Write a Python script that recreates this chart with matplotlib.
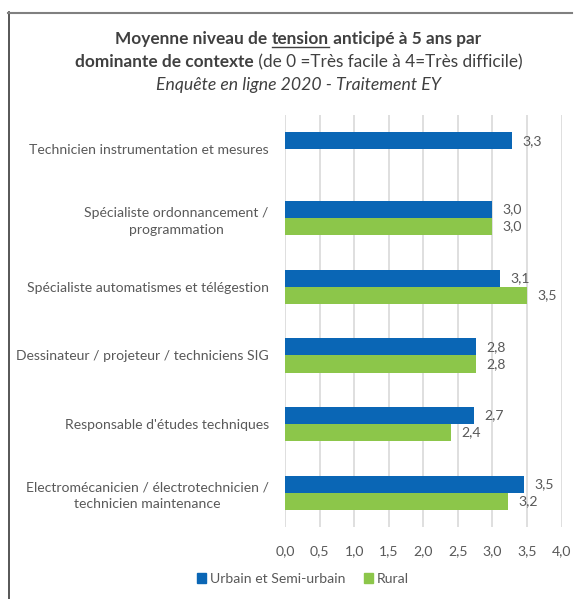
import matplotlib
matplotlib.use("Agg")
import matplotlib.pyplot as plt
from matplotlib.lines import Line2D
from matplotlib.patches import Rectangle

categories = [
    "Technicien instrumentation et mesures",
    "Spécialiste ordonnancement /\nprogrammation",
    "Spécialiste automatismes et télégestion",
    "Dessinateur / projeteur / techniciens SIG",
    "Responsable d'études techniques",
    "Electromécanicien / électrotechnicien /\ntechnicien maintenance",
]
urbain = [3.29, 3.00, 3.11, 2.76, 2.73, 3.46]
rural = [None, 3.00, 3.50, 2.76, 2.40, 3.22]
series_names = ["Urbain et Semi-urbain", "Rural"]
xticks = [0.0, 0.5, 1.0, 1.5, 2.0, 2.5, 3.0, 3.5, 4.0]

BLUE = "#0A66B5"
GREEN = "#8CC64A"
TXT = "#595959"
FONT = "Lato"
FS = 10.1

W, H = 582, 599
fig = plt.figure(figsize=(W / 100, H / 100), dpi=100)
fig.patch.set_facecolor("white")

ax = fig.add_axes([285.3 / W, 1 - 527 / H, (561.5 - 285.3) / W, (527 - 115) / H])
n = len(categories)
ys = list(range(n))
bh = 0.25
for i in ys:
    u = urbain[i]
    r = rural[i]
    if u is not None:
        ax.barh(i - bh / 2, u, height=bh, color=BLUE, zorder=3)
        ax.text(u + 0.15, i - bh / 2, f"{u:.1f}".replace(".", ","), va="center", ha="left",
                color=TXT, fontsize=FS, family=FONT)
    if r is not None:
        ax.barh(i + bh / 2, r, height=bh, color=GREEN, zorder=3)
        ax.text(r + 0.15, i + bh / 2, f"{r:.1f}".replace(".", ","), va="center", ha="left",
                color=TXT, fontsize=FS, family=FONT)

ax.set_ylim(n - 0.5, -0.5)
ax.set_xlim(0, 4)
ax.set_yticks(ys)
ax.set_yticklabels(categories, fontsize=FS, family=FONT, color=TXT, multialignment="center",
                   linespacing=1.45)
ax.set_xticks(xticks)
ax.set_xticklabels([f"{v:.1f}".replace(".", ",") for v in xticks], fontsize=FS, family=FONT, color=TXT)
ax.tick_params(axis="y", length=0, pad=12)
ax.tick_params(axis="x", length=0, pad=13)
ax.xaxis.grid(True, color="#D9D9D9", linewidth=1.2, zorder=0)
for s in ax.spines.values():
    s.set_visible(False)
ax.set_facecolor("none")

# frame lines (cropped chart border)
fig.add_artist(Line2D([8.5 / W, 8.5 / W], [1 - 12 / H, 0], color="#3a3a3a", linewidth=1.2))
fig.add_artist(Line2D([8 / W, 572 / W], [1 - 12.5 / H, 1 - 12.5 / H], color="#808080", linewidth=1.5))

# title with mixed styles
fig.canvas.draw()
renderer = fig.canvas.get_renderer()
TITLE_C = "#404040"

def place_segments(segments, cx, cy, size):
    texts = []
    widths = []
    for s, wgt, sty, ul in segments:
        t = fig.text(0, 0, s, fontsize=size, family=FONT, weight=wgt, style=sty,
                     color=TITLE_C, ha="left", va="baseline")
        bb = t.get_window_extent(renderer)
        texts.append((t, ul))
        widths.append(bb.width)
    total = sum(widths)
    x = cx - total / 2
    for (t, ul), w in zip(texts, widths):
        t.set_position((x / W, 1 - cy / H))
        if ul:
            fig.add_artist(Line2D([x / W, (x + w) / W], [1 - (cy + 2.5) / H] * 2,
                                  color=TITLE_C, linewidth=1.0))
        x += w

place_segments([("Moyenne niveau de ", "bold", "normal", False),
                ("tension", "bold", "normal", True),
                (" anticipé à 5 ans par", "bold", "normal", False)], 298, 44, 12.4)
place_segments([("dominante de contexte", "bold", "normal", False),
                (" (de 0 =Très facile à 4=Très difficile)", "normal", "normal", False)], 299, 67, 12.4)
place_segments([("Enquête en ligne 2020 - Traitement EY", "normal", "italic", False)], 298, 90, 12.7)

# legend
handles = [Rectangle((0, 0), 1, 1, color=BLUE), Rectangle((0, 0), 1, 1, color=GREEN)]
leg = fig.legend(handles, series_names, loc="center", bbox_to_anchor=(303 / W, 1 - 579 / H),
                 ncol=2, frameon=False, prop={"family": FONT, "size": FS},
                 handlelength=0.65, handleheight=0.65, handletextpad=0.3, columnspacing=1.3)
for t in leg.get_texts():
    t.set_color(TXT)

fig.savefig("out.png", dpi=100, facecolor="white")
